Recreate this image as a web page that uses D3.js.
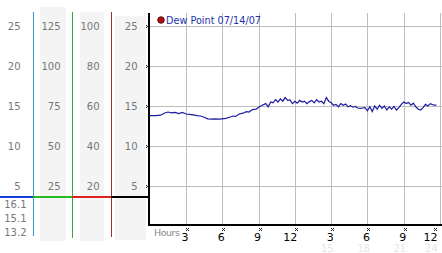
<!DOCTYPE html>
<html><head><meta charset="utf-8">
<script src="https://cdn.jsdelivr.net/npm/d3@7"></script>
<style>body{margin:0;background:#fff}svg{display:block}text{font-family:"DejaVu Sans",Verdana,sans-serif}</style>
</head><body>
<script>
const hours = [0.0,0.5,0.9,1.2,1.5,1.8,2.1,2.4,2.7,3.0,3.3,3.6,3.9,4.2,4.5,4.8,5.1,5.4,5.7,6.0,6.3,6.6,6.9,7.1,7.4,7.7,8.0,8.2,8.5,8.8,9.0,9.3,9.6,9.8,10.0,10.2,10.4,10.6,10.8,11.0,11.2,11.4,11.6,11.8,12.0,12.2,12.4,12.6,12.8,13.0,13.2,13.4,13.6,13.8,14.0,14.2,14.4,14.6,14.8,15.0,15.2,15.4,15.6,15.8,16.0,16.2,16.4,16.6,16.8,17.0,17.2,17.4,17.6,17.8,18.0,18.2,18.4,18.6,18.8,19.0,19.2,19.4,19.6,19.8,20.0,20.2,20.4,20.6,20.8,21.0,21.2,21.4,21.6,21.8,22.0,22.2,22.4,22.6,22.8,23.0,23.2,23.5,23.7];
const dewPoint = [13.8,13.8,13.85,14.1,14.25,14.15,14.2,14.05,14.2,14.0,13.95,13.9,13.8,13.75,13.6,13.4,13.35,13.4,13.35,13.4,13.45,13.6,13.75,13.7,14.0,14.1,14.3,14.25,14.55,14.6,14.85,15.1,15.3,14.9,15.5,15.4,15.8,15.5,15.9,15.6,16.05,15.7,15.75,15.3,15.6,15.35,15.7,15.5,15.6,15.3,15.55,15.7,15.4,15.8,15.5,15.6,15.3,16.05,15.6,15.4,15.1,15.2,14.9,15.3,15.1,15.25,14.9,15.05,14.85,14.95,14.75,14.7,14.75,14.8,14.4,14.9,14.3,15.0,14.6,15.1,14.7,15.0,14.5,14.9,14.6,14.95,14.5,14.8,15.2,15.5,15.3,15.45,15.1,15.35,14.9,14.6,14.5,14.8,15.2,15.0,15.3,15.1,15.1];
const yTicks = [5,10,15,20,25];
const col1Labels = ["5","10","15","20","25"];
const col2Labels = ["25","50","75","100","125"];
const col3Labels = ["20","40","60","80","100"];
const col4Labels = ["5","10","15","20","25"];
const xTicks = [3,6,9,12,15,18,21,24];
const xTickLabels = ["3","6","9","12","3","6","9","12"];
const xFaintLabels = ["","","","","15","18","21","24"];
const statLabels = ["16.1","15.1","13.2"];
const legendLabel = "Dew Point 07/14/07";

const W=442,H=253;
const svg=d3.select("body").append("svg").attr("width",W).attr("height",H);
const x=d3.scaleLinear().domain([0,24]).range([149.7,440]);
const y=d3.scaleLinear().domain([0,25]).range([226,26]);

[[40,7,26,234],[80,12,24,229],[115,16,31,224]].forEach(b=>svg.append("rect").attr("x",b[0]).attr("y",b[1]).attr("width",b[2]).attr("height",b[3]).attr("fill","#f4f4f4"));
[[33.5,12,236,"#3a9ccc"],[72.5,12,238,"#3aa53a"],[111.5,12,237,"#aa2a2a"]].forEach(l=>svg.append("line").attr("x1",l[0]).attr("x2",l[0]).attr("y1",l[1]).attr("y2",l[2]).attr("stroke",l[3]).attr("stroke-width",1));
[[0,33,"#1840d8"],[33,72,"#22bb22"],[72,111,"#dd2020"],[111,149,"#000"]].forEach(s=>svg.append("line").attr("x1",s[0]).attr("x2",s[1]).attr("y1",197).attr("y2",197).attr("stroke",s[2]).attr("stroke-width",2));

function colLabels(labels,rx){
  svg.append("g").selectAll("text").data(yTicks).join("text")
    .attr("x",rx).attr("y",d=>y(d)+4).attr("text-anchor","end")
    .attr("font-size",10).attr("fill","#777").text((d,i)=>labels[i]);
}
colLabels(col1Labels,20.5);
colLabels(col2Labels,60.5);
colLabels(col3Labels,99.5);
colLabels(col4Labels,137.5);
svg.append("g").selectAll("text").data(statLabels).join("text")
  .attr("x",26.5).attr("y",(d,i)=>208+i*14).attr("text-anchor","end")
  .attr("font-size",10).attr("fill","#777").text(d=>d);

svg.append("g").selectAll("line").data(yTicks).join("line")
  .attr("x1",149).attr("x2",W).attr("y1",d=>Math.round(y(d))+0.5).attr("y2",d=>Math.round(y(d))+0.5)
  .attr("stroke","#bdbdbd");
svg.append("g").selectAll("line").data(xTicks).join("line")
  .attr("x1",d=>Math.round(x(d))+0.5).attr("x2",d=>Math.round(x(d))+0.5).attr("y1",13).attr("y2",225)
  .attr("stroke","#bdbdbd");

function mark(cx,cy){
  const g=svg.append("g").attr("transform",`translate(${Math.round(cx)-1},${Math.round(cy)-1})`);
  [[0,0],[2,0],[1,1],[0,2],[2,2]].forEach(p=>g.append("rect").attr("x",p[0]).attr("y",p[1]).attr("width",1).attr("height",1).attr("fill","#222"));
}
yTicks.forEach(d=>mark(146.5,y(d)));
xTicks.forEach(d=>mark(Math.min(x(d),434)+1,229));

svg.append("line").attr("x1",149).attr("x2",149).attr("y1",13).attr("y2",226).attr("stroke","#000").attr("stroke-width",2);
svg.append("line").attr("x1",148).attr("x2",W).attr("y1",225).attr("y2",225).attr("stroke","#000").attr("stroke-width",2);

svg.append("text").attr("x",154).attr("y",236).attr("font-size",9.5).attr("fill","#888").attr("textLength",26).text("Hours");
svg.append("g").selectAll("text").data(xTicks).join("text")
  .attr("x",d=>Math.min(x(d)+2.5,437.5)).attr("y",241).attr("text-anchor","end")
  .attr("font-size",11).attr("fill","#000").text((d,i)=>xTickLabels[i]);
svg.append("g").selectAll("text").data(xTicks).join("text")
  .attr("x",d=>Math.min(x(d)+2.5,437.5)).attr("y",252).attr("text-anchor","end")
  .attr("font-size",10).attr("fill","#e6e6e6").text((d,i)=>xFaintLabels[i]);

const line=d3.line().x((d,i)=>x(hours[i])).y(d=>y(d));
svg.append("path").datum(dewPoint).attr("d",line).attr("fill","none").attr("stroke","#1c1ca0").attr("stroke-width",1.2);

svg.append("circle").attr("cx",161).attr("cy",20).attr("r",3.3).attr("fill","#b01010").attr("stroke","#400").attr("stroke-width",0.8);
svg.append("text").attr("x",166).attr("y",24).attr("font-size",10).attr("fill","#2233aa").attr("textLength",95).attr("lengthAdjust","spacingAndGlyphs").text(legendLabel);
</script>
</body></html>
